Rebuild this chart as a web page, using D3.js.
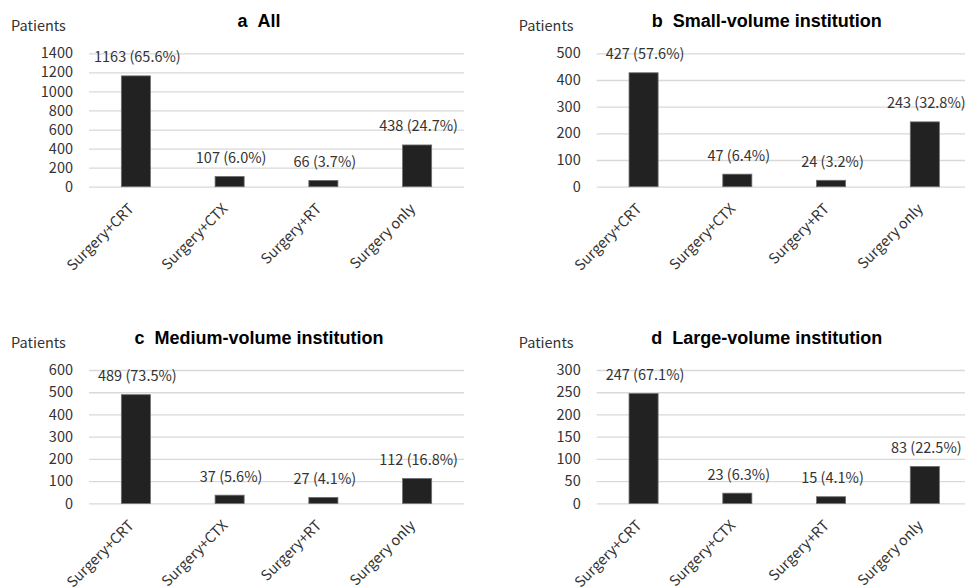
<!DOCTYPE html>
<html>
<head>
<meta charset="utf-8">
<script src="https://cdn.jsdelivr.net/npm/d3@7"></script>
<style>
  body { margin: 0; background: #fff; }
  svg { display: block; }
</style>
</head>
<body>
<div id="chart"></div>
<script>
// data
var categories = ['Surgery+CRT', 'Surgery+CTX', 'Surgery+RT', 'Surgery only'];

var allCounts = [1163, 107, 66, 438];
var allPct = [65.6, 6.0, 3.7, 24.7];

var smallCounts = [427, 47, 24, 243];
var smallPct = [57.6, 6.4, 3.2, 32.8];

var mediumCounts = [489, 37, 27, 112];
var mediumPct = [73.5, 5.6, 4.1, 16.8];

var largeCounts = [247, 23, 15, 83];
var largePct = [67.1, 6.3, 4.1, 22.5];

var panelTitles = ['a\u00a0\u00a0All', 'b\u00a0\u00a0Small-volume institution',
  'c\u00a0\u00a0Medium-volume institution', 'd\u00a0\u00a0Large-volume institution'];
var yMax = [1400, 500, 600, 300];
var yStep = [200, 100, 100, 50];

var w = 965;
var h = 587;
var labelFont = "'Noto Sans CJK JP', 'Noto Sans', sans-serif";
var titleFont = "'Liberation Sans', Arial, sans-serif";

var svg = d3
  .select('#chart')
  .append('svg')
  .attr('width', w)
  .attr('height', h);

// plot box of each panel (left, top of grid)
var panels = [
  { left: 89, top: 53.3, counts: allCounts, pct: allPct },
  { left: 596.7, top: 53.3, counts: smallCounts, pct: smallPct },
  { left: 89, top: 370, counts: mediumCounts, pct: mediumPct },
  { left: 596.7, top: 370, counts: largeCounts, pct: largePct }
];
var plotW = 375;
var plotH = 133.4;

panels.forEach(function (p, k) {
  var g = svg.append('g').attr('transform', 'translate(' + p.left + ',' + p.top + ')');

  var x = d3.scaleBand().domain(categories).range([0, plotW])
    .paddingInner(0.69).paddingOuter(0.345);
  var y = d3.scaleLinear().domain([0, yMax[k]]).range([plotH, 0]);

  var ticks = d3.range(0, yMax[k] + 1, yStep[k]);
  var yAxis = g.append('g')
    .call(d3.axisLeft(y).tickValues(ticks).tickSize(-plotW).tickPadding(16).tickFormat(d3.format('d')));
  yAxis.select('.domain').remove();
  yAxis.selectAll('line').attr('stroke', '#d9d9d9').attr('stroke-width', 1.3);
  yAxis.selectAll('text')
    .attr('font-family', labelFont)
    .attr('font-size', '14.5px')
    .attr('fill', '#333');

  // bars
  g.selectAll('.bar')
    .data(p.counts)
    .enter()
    .append('rect')
    .attr('class', 'bar')
    .attr('x', function (d, i) { return x(categories[i]); })
    .attr('y', function (d) { return y(d); })
    .attr('width', x.bandwidth())
    .attr('height', function (d) { return plotH - y(d); })
    .attr('fill', '#222')
    .attr('stroke', '#6e6e6e')
    .attr('stroke-width', 0.8);

  // value labels
  g.selectAll('text.value')
    .data(p.counts)
    .enter()
    .append('text')
    .attr('class', 'value')
    .text(function (d, i) { return d + ' (' + p.pct[i].toFixed(1) + '%)'; })
    .attr('text-anchor', 'middle')
    .attr('x', function (d, i) { return x(categories[i]) + x.bandwidth() / 2 + 1.5; })
    .attr('y', function (d) { return y(d) - 13.5; })
    .attr('font-family', labelFont)
    .attr('font-size', '14.5px')
    .attr('fill', '#333');

  // category labels, rotated
  g.selectAll('text.cat')
    .data(categories)
    .enter()
    .append('text')
    .attr('class', 'cat')
    .text(function (d) { return d; })
    .attr('text-anchor', 'end')
    .attr('transform', function (d) {
      var cx = x(d) + x.bandwidth() / 2 - 1;
      return 'translate(' + cx + ',' + (plotH + 23) + ') rotate(-45)';
    })
    .attr('font-family', labelFont)
    .attr('font-size', '14.5px')
    .attr('fill', '#333');

  // axis title
  g.append('text')
    .text('Patients')
    .attr('x', -78)
    .attr('y', -22)
    .attr('font-family', labelFont)
    .attr('font-size', '14.5px')
    .attr('fill', '#333');

  // panel title
  g.append('text')
    .text(panelTitles[k])
    .attr('x', 170)
    .attr('y', -26)
    .attr('text-anchor', 'middle')
    .attr('font-family', titleFont)
    .attr('font-weight', 'bold')
    .attr('font-size', '18px')
    .attr('fill', '#000');
});
</script>
</body>
</html>
